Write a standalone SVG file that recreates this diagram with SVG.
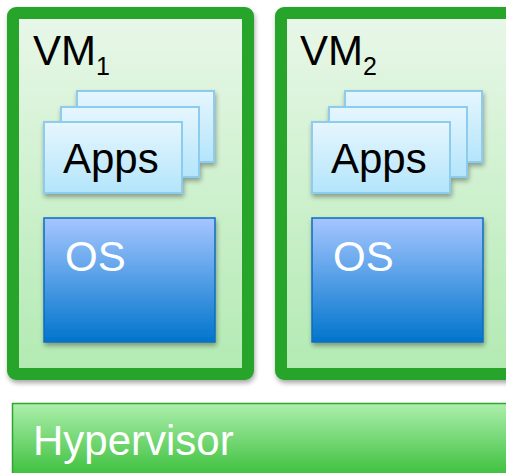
<svg xmlns="http://www.w3.org/2000/svg" width="506" height="473" viewBox="0 0 506 473">
  <defs>
    <linearGradient id="vmFill" x1="0" y1="0" x2="0" y2="1">
      <stop offset="0" stop-color="#e9f7e9"/>
      <stop offset="1" stop-color="#b2eab2"/>
    </linearGradient>
    <linearGradient id="appFill" x1="0" y1="0" x2="0" y2="1">
      <stop offset="0" stop-color="#e6f6fe"/>
      <stop offset="1" stop-color="#b3e5fb"/>
    </linearGradient>
    <linearGradient id="osFill" x1="0" y1="0" x2="0" y2="1">
      <stop offset="0" stop-color="#a6c6ff"/>
      <stop offset="1" stop-color="#0075cc"/>
    </linearGradient>
    <linearGradient id="hvFill" x1="0" y1="0" x2="0" y2="1">
      <stop offset="0" stop-color="#acefac"/>
      <stop offset="1" stop-color="#22b422"/>
    </linearGradient>
    <filter id="shadow" x="-10%" y="-10%" width="125%" height="125%">
      <feGaussianBlur in="SourceAlpha" stdDeviation="2.5"/>
      <feOffset dx="1" dy="3" result="b"/>
      <feComponentTransfer><feFuncA type="linear" slope="0.35"/></feComponentTransfer>
      <feMerge><feMergeNode/><feMergeNode in="SourceGraphic"/></feMerge>
    </filter>
  </defs>
  <style>
    .vm { fill: url(#vmFill); stroke: #27a52c; stroke-width: 12; }
    .app { fill: url(#appFill); stroke: #8dcbef; stroke-width: 2; }
    .os { fill: url(#osFill); stroke: #0a6cc0; stroke-width: 1.5; }
    .hv { fill: url(#hvFill); stroke: #2ea52e; stroke-width: 1.5; }
    text { font-family: "Liberation Sans", Arial, sans-serif; }
    .label { font-size: 42px; fill: #000; }
    .sub { font-size: 25px; fill: #000; }
    .white { font-size: 42px; fill: #fff; }
  </style>

  <!-- Virtual machine 1 -->
  <g id="vm1">
    <rect class="vm" x="13" y="13" width="235" height="361" rx="3" filter="url(#shadow)"/>
    <text class="label" x="33" y="65">VM<tspan class="sub" dy="10">1</tspan></text>
    <g filter="url(#shadow)">
      <rect class="app" x="77" y="91" width="137" height="71"/>
      <rect class="app" x="61" y="107" width="138" height="70"/>
      <rect class="app" x="44" y="122" width="138" height="71"/>
    </g>
    <text class="label" x="63" y="173">Apps</text>
    <rect class="os" x="44" y="218" width="171" height="124" filter="url(#shadow)"/>
    <text class="white" x="65" y="271">OS</text>
  </g>

  <!-- Virtual machine 2 -->
  <g id="vm2">
    <rect class="vm" x="281" y="13" width="235" height="361" rx="3" filter="url(#shadow)"/>
    <text class="label" x="300" y="65">VM<tspan class="sub" dy="10">2</tspan></text>
    <g filter="url(#shadow)">
      <rect class="app" x="345" y="91" width="137" height="71"/>
      <rect class="app" x="329" y="107" width="138" height="70"/>
      <rect class="app" x="312" y="122" width="138" height="71"/>
    </g>
    <text class="label" x="331" y="173">Apps</text>
    <rect class="os" x="312" y="218" width="171" height="124" filter="url(#shadow)"/>
    <text class="white" x="333" y="271">OS</text>
  </g>

  <!-- Hypervisor layer -->
  <g id="hypervisor">
    <rect class="hv" x="12.5" y="403.5" width="510" height="90"/>
    <text class="white" x="33" y="455">Hypervisor</text>
  </g>

  <g id="connectors"/>
</svg>
